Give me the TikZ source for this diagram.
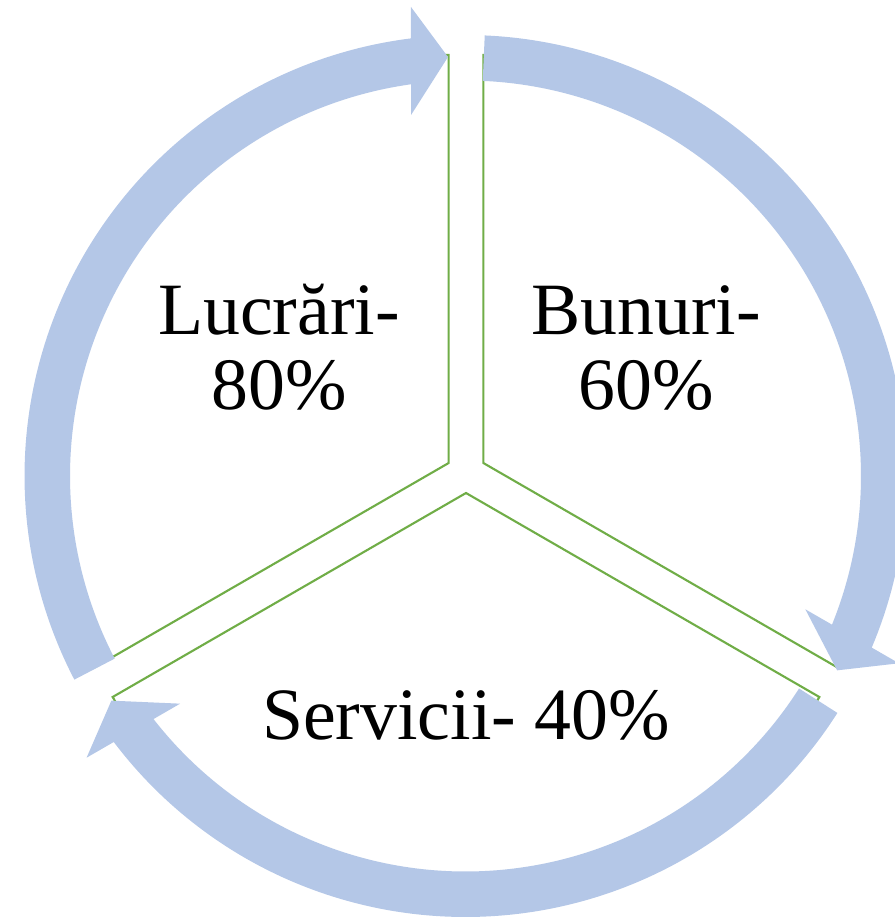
\documentclass[tikz,border=0pt]{standalone}
\usepackage{fontspec}
\setmainfont{Liberation Serif}
\begin{document}
\begin{tikzpicture}[x=0.02cm,y=0.02cm]
\definecolor{arrowblue}{HTML}{B4C7E7}
\definecolor{sectgreen}{HTML}{70AD47}
\tikzset{
  sector/.style={draw=sectgreen, line width=1.2pt, fill=white, line join=miter},
  cyclearrow/.style={fill=arrowblue, draw=none},
  txt/.style={font=\fontsize{42}{43}\selectfont, align=center, anchor=base, inner sep=0pt}
}
\useasboundingbox (0,0) rectangle (895,917);
% exploded pie sectors
\begin{scope}[shift={(466,444)}]
  \draw[sector] (150:20) -- ++(90:408) arc[start angle=90, end angle=210, radius=408] -- cycle;
  \draw[sector] (30:20) -- ++(90:408) arc[start angle=90, end angle=-30, radius=408] -- cycle;
  \draw[sector] (270:20) -- ++(210:408) arc[start angle=210, end angle=330, radius=408] -- cycle;
\end{scope}
% circular arrows
\begin{scope}[shift={(465.5,441)}]
  \foreach \t in {207.5, 87.5, -32.5} {
    \pgfmathsetmacro\p{\t-115.11}
    \pgfmathsetmacro\ob{\p+4.71}
    \pgfmathsetmacro\oc{\p+4.24}
    \pgfmathsetmacro\ic{\p+6.19}
    \pgfmathsetmacro\ib{\p+5.53}
    \fill[cyclearrow] (\t:441) arc[start angle=\t, end angle=\ob, radius=441]
      -- (\oc:472.2) -- (\p:419.4) -- (\ic:365.1) -- (\ib:395.5)
      arc[start angle=\ib, end angle=\t, radius=395.5] -- cycle;
  }
\end{scope}
% labels (base anchor = baseline of the last line)
\node[txt] (lucrari) at (279,507) {Lucrări-\\80\%};
\node[txt] (bunuri) at (646,507) {Bunuri-\\60\%};
\node[txt] (servicii) at (466,177) {Servicii- 40\%};
\end{tikzpicture}
\end{document}
